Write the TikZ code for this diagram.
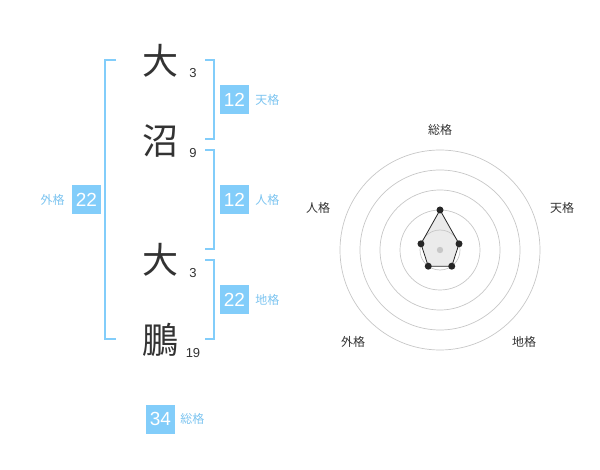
\documentclass[tikz,border=0pt]{standalone}
\usepackage{fontspec}
\setmainfont{Liberation Sans}
\newfontfamily\jpfont{Noto Sans CJK JP}
\definecolor{KakuBlue}{HTML}{82CDFA}
\definecolor{KakuText}{HTML}{7CC4F0}
\definecolor{InkGray}{HTML}{333333}
\usetikzlibrary{calc, positioning}

\begin{document}
\begin{tikzpicture}[
  x=1pt, y=-1pt,
  every node/.style={inner sep=0pt},
  kanji/.style={font=\jpfont\fontsize{36}{36}\selectfont, text=InkGray},
  strokes/.style={font=\fontsize{13}{13}\selectfont, text=InkGray},
  kakubox/.style={
    rectangle, fill=KakuBlue,
    minimum width=29pt, minimum height=29pt,
    text=white, font=\fontsize{19}{19}\selectfont},
  kakulbl/.style={font=\jpfont\fontsize{12}{12}\selectfont, text=KakuText},
  bracket/.style={draw=KakuBlue, line width=2pt},
  ring/.style={draw=black!22, line width=0.7pt},
  radarlbl/.style={font=\jpfont\fontsize{12}{12}\selectfont, text=InkGray},
  vertex/.style={circle, fill=black!85, minimum size=7pt},
]
\useasboundingbox (0,0) rectangle (600,470);

% name
\node[kanji] (sei1) at (160, 61) {大};
\node[kanji] (sei2) at (160, 141) {沼};
\node[kanji] (mei1) at (160, 260) {大};
\node[kanji] (mei2) at (160, 340) {鵬};

\node[strokes] (k1) at (193, 73)  {3};
\node[strokes] (k2) at (193, 153) {9};
\node[strokes] (k3) at (193, 273) {3};
\node[strokes] (k4) at (193, 353) {19};

% brackets
\draw[bracket] (116, 60) -- (105, 60) -- (105, 339) -- (116, 339);
\draw[bracket] (205, 60) -- (214, 60) -- (214, 139) -- (205, 139);
\draw[bracket] (205, 150) -- (214, 150) -- (214, 249) -- (205, 249);
\draw[bracket] (205, 260) -- (214, 260) -- (214, 339) -- (205, 339);

% kaku values
\node[kakubox] (ten) at (234.5, 100) {12};
\node[kakulbl, right=6pt of ten] (tenl) {天格};
\node[kakubox] (jin) at (234.5, 200) {12};
\node[kakulbl, right=6pt of jin] (jinl) {人格};
\node[kakubox] (chi) at (234.5, 300) {22};
\node[kakulbl, right=6pt of chi] (chil) {地格};
\node[kakubox] (gai) at (86.5, 200) {22};
\node[kakulbl, left=7pt of gai] (gail) {外格};
\node[kakubox] (sou) at (160.5, 419) {34};
\node[kakulbl, right=5pt of sou] (soul) {総格};

% radar
\coordinate (c) at (440, 250);
\coordinate (p1) at ($(c)+(90:40pt)$);
\coordinate (p2) at ($(c)+(18:20pt)$);
\coordinate (p3) at ($(c)+(-54:20pt)$);
\coordinate (p4) at ($(c)+(-126:20pt)$);
\coordinate (p5) at ($(c)+(162:20pt)$);

\fill[black!8] (p1) -- (p2) -- (p3) -- (p4) -- (p5) -- cycle;
\foreach \r in {20,40,60,80,100}
  \draw[ring] (c) circle (\r pt);
\draw[black!85, line width=0.8pt] (p1) -- (p2) -- (p3) -- (p4) -- (p5) -- cycle;
\fill[black!22] (c) circle (3.2pt);
\foreach \p in {p1,p2,p3,p4,p5}
  \node[vertex] at (\p) {};

\node[radarlbl] (r1) at (440, 130) {総格};
\node[radarlbl] (r2) at (562, 208) {天格};
\node[radarlbl] (r3) at (524, 342) {地格};
\node[radarlbl] (r4) at (353, 342) {外格};
\node[radarlbl] (r5) at (318, 208) {人格};

\end{tikzpicture}
\end{document}
